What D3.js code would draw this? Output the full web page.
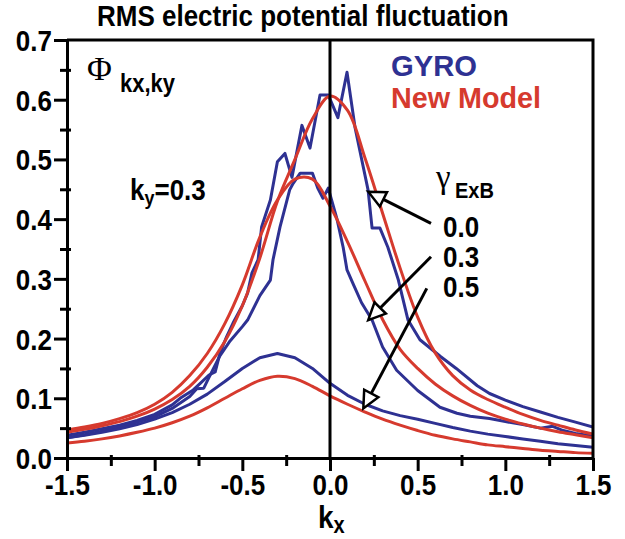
<!DOCTYPE html>
<html lang="en">
<head>
<meta charset="UTF-8">
<title>RMS electric potential fluctuation</title>
<script src="https://cdn.jsdelivr.net/npm/d3@7"></script>
<style>
  body { margin: 0; background: #fff; }
  svg text { font-family: "Liberation Sans", Arial, Helvetica, sans-serif; font-weight: bold; fill: #000; }
  .serif { font-family: "Liberation Serif", "DejaVu Serif", serif; font-weight: normal; }
</style>
</head>
<body>
<div id="chart"></div>
<script>
// ---- data ----
var kxGrid = [-1.5,-1.4,-1.3,-1.2,-1.1,-1.0,-0.9,-0.8,-0.7,-0.6,-0.5,-0.4,-0.3,-0.2,-0.1,0.0,
              0.1,0.2,0.3,0.4,0.5,0.6,0.7,0.8,0.9,1.0,1.1,1.2,1.3,1.4,1.5];

// New Model (red), one per gamma_ExB
var model00 = [0.043,0.048,0.054,0.061,0.070,0.082,0.098,0.120,0.152,0.195,0.255,0.335,0.430,0.500,0.568,0.606,
               0.582,0.502,0.410,0.318,0.236,0.176,0.138,0.114,0.098,0.085,0.073,0.063,0.055,0.047,0.040];
var model03 = [0.047,0.052,0.058,0.066,0.076,0.090,0.110,0.138,0.175,0.225,0.290,0.370,0.432,0.467,0.467,0.422,
               0.362,0.296,0.232,0.182,0.150,0.124,0.104,0.088,0.075,0.065,0.057,0.050,0.044,0.039,0.034];
var model05 = [0.025,0.028,0.032,0.037,0.043,0.050,0.059,0.070,0.084,0.100,0.116,0.130,0.137,0.133,0.120,0.104,
               0.090,0.077,0.065,0.055,0.046,0.038,0.032,0.027,0.022,0.019,0.016,0.013,0.011,0.009,0.008];

// GYRO (blue)
var gyro00 = [[-1.5,0.038],[-1.4,0.043],[-1.3,0.049],[-1.2,0.055],[-1.1,0.063],[-1.0,0.073],[-0.9,0.089],
  [-0.855,0.100],[-0.78,0.114],[-0.74,0.125],[-0.69,0.139],[-0.655,0.144],[-0.627,0.176],[-0.59,0.203],
  [-0.553,0.226],[-0.5,0.255],[-0.47,0.276],[-0.445,0.31],[-0.41,0.332],[-0.39,0.387],[-0.34,0.432],
  [-0.3,0.496],[-0.257,0.51],[-0.217,0.47],[-0.16,0.557],[-0.114,0.519],[-0.057,0.608],[-0.01,0.608],
  [0.045,0.57],[0.097,0.646],[0.143,0.553],[0.217,0.449],[0.24,0.385],[0.285,0.385],[0.33,0.353],
  [0.39,0.298],[0.445,0.231],[0.513,0.198],[0.63,0.170],[0.72,0.150],[0.84,0.121],[0.91,0.108],
  [1.0,0.097],[1.1,0.086],[1.2,0.077],[1.3,0.068],[1.4,0.060],[1.5,0.052]];
var gyro03 = [[-1.5,0.034],[-1.4,0.039],[-1.3,0.045],[-1.2,0.052],[-1.1,0.060],[-1.0,0.069],[-0.9,0.083],
  [-0.8,0.103],[-0.76,0.116],[-0.72,0.117],[-0.69,0.135],[-0.63,0.170],[-0.57,0.196],[-0.5,0.220],
  [-0.47,0.231],[-0.4,0.272],[-0.34,0.298],[-0.325,0.332],[-0.285,0.387],[-0.23,0.449],[-0.21,0.46],
  [-0.17,0.477],[-0.1,0.477],[-0.07,0.452],[-0.04,0.435],[-0.01,0.452],[0.04,0.40],[0.075,0.353],
  [0.097,0.315],[0.13,0.293],[0.18,0.26],[0.24,0.231],[0.3,0.186],[0.38,0.147],[0.5,0.113],
  [0.627,0.085],[0.724,0.075],[0.8,0.070],[0.86,0.068],[0.91,0.066],[1.0,0.061],[1.1,0.056],
  [1.2,0.050],[1.27,0.053],[1.33,0.046],[1.4,0.041],[1.5,0.037]];
var gyro05 = [[-1.5,0.034],[-1.4,0.038],[-1.3,0.043],[-1.2,0.049],[-1.1,0.056],[-1.0,0.065],[-0.9,0.076],
  [-0.8,0.090],[-0.7,0.107],[-0.6,0.128],[-0.5,0.150],[-0.4,0.168],[-0.3,0.175],[-0.2,0.168],[-0.1,0.150],
  [0.0,0.125],[0.1,0.105],[0.2,0.090],[0.3,0.079],[0.4,0.071],[0.5,0.065],[0.6,0.058],[0.7,0.051],
  [0.8,0.045],[0.9,0.040],[1.0,0.036],[1.1,0.032],[1.2,0.028],[1.3,0.024],[1.4,0.021],[1.5,0.018]];

var xMajor = [-1.5,-1.0,-0.5,0.0,0.5,1.0,1.5];
var xTickLabels = ["-1.5","-1.0","-0.5","0.0","0.5","1.0","1.5"];
var xMinor = [-1.25,-0.75,-0.25,0.25,0.75,1.25];
var yMajor = [0,0.1,0.2,0.3,0.4,0.5,0.6,0.7];
var yTickLabels = ["0.0","0.1","0.2","0.3","0.4","0.5","0.6","0.7"];
var yMinor = [0.05,0.15,0.25,0.35,0.45,0.55,0.65];

var gammaLabels = ["0.0","0.3","0.5"];

var blue = "#2e3192", red = "#d63a2e";

// ---- chart ----
var svg = d3.select("#chart").append("svg")
    .attr("width", 625)
    .attr("height", 539);

var x = d3.scaleLinear().domain([-1.5, 1.5]).range([67, 593]);
var y = d3.scaleLinear().domain([0, 0.7]).range([458, 40]);
var SY = 1.15; // the original lettering is a bit taller than Arial

svg.append("clipPath").attr("id", "plotclip")
  .append("rect").attr("x", 67).attr("y", 40).attr("width", 526).attr("height", 418);

var plot = svg.append("g").attr("clip-path", "url(#plotclip)");

var line = d3.line().x(function (d) { return x(d[0]); }).y(function (d) { return y(d[1]); });
var smooth = d3.line().curve(d3.curveCatmullRom)
    .x(function (d) { return x(d[0]); }).y(function (d) { return y(d[1]); });

function pairs(vals) { return kxGrid.map(function (k, i) { return [k, vals[i]]; }); }

[gyro00, gyro03, gyro05].forEach(function (s) {
  plot.append("path").datum(s).attr("d", line)
    .attr("fill", "none").attr("stroke", blue).attr("stroke-width", 3).attr("stroke-linejoin", "round");
});
[model00, model03, model05].forEach(function (s) {
  plot.append("path").datum(pairs(s)).attr("d", smooth)
    .attr("fill", "none").attr("stroke", red).attr("stroke-width", 3);
});

// zero line and frame
svg.append("line").attr("x1", x(0)).attr("x2", x(0)).attr("y1", y(0.7)).attr("y2", y(0))
  .attr("stroke", "#000").attr("stroke-width", 3);
svg.append("path")
  .attr("d", "M" + x(-1.5) + "," + y(0.7) + "H" + x(1.5) + "V" + y(0))
  .attr("fill", "none").attr("stroke", "#000").attr("stroke-width", 3);

// axes
var xAxis = svg.append("g").attr("transform", "translate(0," + y(0) + ")")
  .call(d3.axisBottom(x).tickValues(xMajor).tickSize(13).tickSizeOuter(0)
    .tickFormat(function (d, i) { return xTickLabels[i]; }));
svg.append("g").attr("transform", "translate(0," + (y(0) - 3) + ")")
  .call(d3.axisBottom(x).tickValues(xMinor).tickSize(11).tickFormat(""))
  .select(".domain").remove();

var yAxis = svg.append("g").attr("transform", "translate(" + x(-1.5) + ",0)")
  .call(d3.axisLeft(y).tickValues(yMajor).tickSize(13).tickSizeOuter(0)
    .tickFormat(function (d, i) { return yTickLabels[i]; }));
svg.append("g").attr("transform", "translate(" + (x(-1.5) + 4) + ",0)")
  .call(d3.axisLeft(y).tickValues(yMinor).tickSize(11).tickFormat(""))
  .select(".domain").remove();

svg.selectAll(".domain, .tick line").attr("stroke", "#000").attr("stroke-width", 3);

xAxis.selectAll(".tick text")
  .attr("font-size", 26).attr("y", 37 / SY).attr("dy", 0)
  .attr("transform", "scale(1," + SY + ")")
  .style("font-family", "'Liberation Sans', Arial, sans-serif").style("font-weight", "bold");
yAxis.selectAll(".tick text")
  .attr("font-size", 26).attr("x", -15).attr("dy", 0).attr("y", 10.5 / SY)
  .attr("transform", "scale(1," + SY + ")")
  .style("font-family", "'Liberation Sans', Arial, sans-serif").style("font-weight", "bold");
svg.selectAll(".tick text").attr("fill", "#000");

// text helper: parts = [[string, size, dy, cls, color]]
function label(px, py, parts, sy) {
  var t = svg.append("text")
    .attr("transform", "translate(" + px + "," + py + ") scale(1," + (sy || SY) + ")");
  parts.forEach(function (p) {
    var ts = t.append("tspan").text(p[0]).attr("font-size", p[1]);
    if (p[2]) ts.attr("dy", p[2]);
    if (p[3]) ts.attr("class", p[3]);
    if (p[4]) ts.style("fill", p[4]);
  });
  return t;
}

label(97, 26, [["RMS electric potential fluctuation", 26]], 1.12);
label(391, 76, [["GYRO", 26, 0, null, blue]], 1.1)
  .attr("textLength", 86).attr("lengthAdjust", "spacingAndGlyphs");
label(391, 108, [["New Model", 26, 0, null, red]], 1.1)
  .attr("textLength", 150).attr("lengthAdjust", "spacingAndGlyphs");

label(87, 80, [["\u03A6", 34, 0, "serif"]], 1.0);
label(120, 92, [["kx,ky", 22]]);

label(130, 200, [["k", 26], ["y", 18, 4], ["=0.3", 26, -4]]);
label(318, 528, [["k", 28], ["x", 20, 4]]);

label(436, 188, [["\u03B3", 33, 0, "serif"]], 1.0);
label(455, 198, [["ExB", 20]], 1.1);
gammaLabels.forEach(function (g, i) {
  label(443, 237 + i * 30, [[g, 26]]);
});

// arrows from the gamma labels to the curves
var arrows = [
  { from: [0.576, 0.393], to: [0.218, 0.446] },
  { from: [0.576, 0.337], to: [0.218, 0.231] },
  { from: [0.552, 0.284], to: [0.190, 0.083] }
];
arrows.forEach(function (a) {
  var x0 = x(a.from[0]), y0 = y(a.from[1]), x1 = x(a.to[0]), y1 = y(a.to[1]);
  var dx = x1 - x0, dy = y1 - y0, len = Math.sqrt(dx * dx + dy * dy);
  var ux = dx / len, uy = dy / len, L = 17, W = 8;
  var bx = x1 - ux * L, by = y1 - uy * L;
  svg.append("line").attr("x1", x0).attr("y1", y0).attr("x2", bx).attr("y2", by)
    .attr("stroke", "#000").attr("stroke-width", 3);
  svg.append("path")
    .attr("d", "M" + x1 + "," + y1 +
      "L" + (bx - uy * W) + "," + (by + ux * W) +
      "L" + (bx + uy * W) + "," + (by - ux * W) + "Z")
    .attr("fill", "#fff").attr("stroke", "#000").attr("stroke-width", 2.5)
    .attr("stroke-linejoin", "miter");
});
</script>
</body>
</html>
